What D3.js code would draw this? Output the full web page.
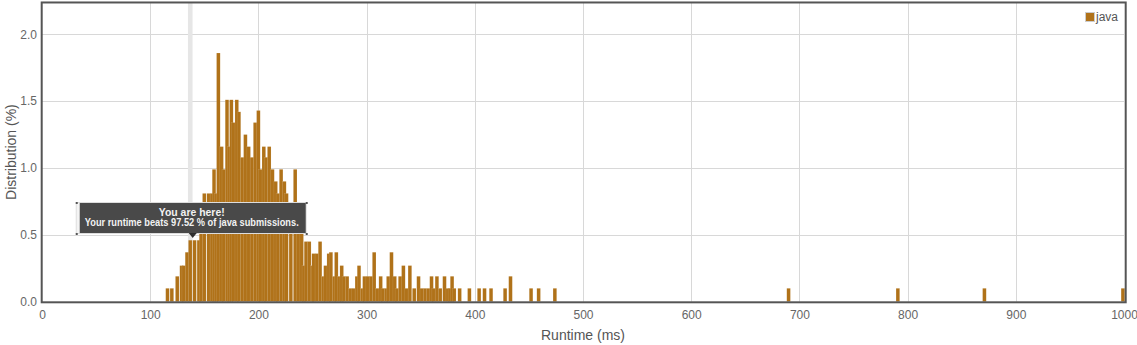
<!DOCTYPE html>
<html>
<head>
<meta charset="utf-8">
<style>
  body { margin: 0; background: #fff; }
  svg { display: block; font-family: "Liberation Sans", Arial, sans-serif; }
</style>
</head>
<body>
<svg width="1137" height="345"></svg>
<script src="https://d3js.org/d3.v7.min.js"></script>
<script>

    // runtime bins (ms) and share of submissions (%)
    var runtimes = [116, 120, 125, 129, 131, 134, 137, 141, 145, 147, 150, 154, 157, 159, 161, 163, 166, 168, 171, 173,
        175, 177, 180, 182, 185, 188, 191, 194, 197, 200, 202, 205, 207, 210, 213, 216, 218, 221, 224, 226,
        230, 234, 237, 240, 242, 244, 247, 250, 251, 254, 257, 260, 262, 265, 267, 270, 272, 275, 277, 279,
        282, 285, 288, 291, 293, 296, 298, 301, 304, 307, 310, 313, 315, 318, 320, 323, 326, 328, 331, 334,
        337, 340, 344, 348, 351, 354, 357, 360, 362, 365, 368, 372, 375, 377, 379, 381, 386, 395, 404, 409,
        415, 428, 433, 452, 459, 474, 690, 791, 871, 999];
    var percents = [0.10, 0.10, 0.19, 0.27, 0.27, 0.37, 0.46, 0.46, 0.46, 0.58, 0.81, 0.81, 0.81, 0.99, 0.81, 1.86, 1.16, 0.99, 1.51, 1.16,
        1.51, 1.34, 1.51, 1.42, 1.08, 1.25, 1.16, 1.08, 1.34, 1.43, 0.99, 1.16, 1.08, 1.16, 0.99, 0.90, 0.81, 0.99, 0.90, 0.81,
        0.74, 0.99, 0.74, 0.66, 0.27, 0.45, 0.45, 0.27, 0.36, 0.36, 0.45, 0.19, 0.27, 0.36, 0.37, 0.19, 0.37, 0.19, 0.27, 0.19,
        0.19, 0.10, 0.10, 0.19, 0.27, 0.10, 0.19, 0.19, 0.19, 0.37, 0.10, 0.19, 0.10, 0.10, 0.19, 0.37, 0.19, 0.10, 0.19, 0.27,
        0.10, 0.27, 0.10, 0.19, 0.10, 0.10, 0.10, 0.19, 0.10, 0.19, 0.10, 0.19, 0.10, 0.10, 0.19, 0.10, 0.10, 0.10, 0.10, 0.10,
        0.10, 0.10, 0.19, 0.10, 0.10, 0.10, 0.10, 0.10, 0.10, 0.10];

    var xTicks = [0, 100, 200, 300, 400, 500, 600, 700, 800, 900, 1000];
    var yTicks = [0, 0.5, 1, 1.5, 2];
    var seriesName = "java";
    var myRuntime = 137;
    var tipLines = ["You are here!", "Your runtime beats 97.52 % of java submissions."];

    var data = runtimes.map(function(r, i) { return {ms: r, pct: percents[i]}; });

    var svg = d3.select("svg"),
        barColor = "#b07219";

    var x = d3.scaleLinear().domain([0, 1000]).range([42, 1124]);
    var y = d3.scaleLinear().domain([0, 2]).range([301.7, 34.3]);
    var plotTop = y(2.238), plotBottom = y(0);

    svg.append("clipPath").attr("id", "plot")
        .append("rect")
        .attr("x", x(0)).attr("y", plotTop)
        .attr("width", x(1000) - x(0) + 1).attr("height", plotBottom - plotTop);

    // grid
    svg.append("g").selectAll("line")
        .data(xTicks.filter(function(t) { return t > 0 && t < 1000; }))
        .enter().append("line")
        .attr("x1", function(d) { return Math.round(x(d)) + 0.5; })
        .attr("x2", function(d) { return Math.round(x(d)) + 0.5; })
        .attr("y1", plotTop).attr("y2", plotBottom)
        .attr("stroke", "#d8d8d8");

    svg.append("g").selectAll("line")
        .data(yTicks.filter(function(t) { return t > 0; }))
        .enter().append("line")
        .attr("x1", x(0)).attr("x2", x(1000))
        .attr("y1", function(d) { return Math.round(y(d)) + 0.5; })
        .attr("y2", function(d) { return Math.round(y(d)) + 0.5; })
        .attr("stroke", "#d8d8d8");

    // "you are here" band
    svg.append("rect")
        .attr("x", x(myRuntime) - 2.3)
        .attr("y", plotTop)
        .attr("width", 4.6)
        .attr("height", plotBottom - plotTop)
        .attr("fill", "#e6e6e6");

    // bars
    svg.append("g")
        .attr("clip-path", "url(#plot)")
        .selectAll("rect")
        .data(data)
        .enter().append("rect")
        .attr("x", function(d) { return x(d.ms) - 1.8; })
        .attr("width", 3.6)
        .attr("y", function(d) { return y(d.pct); })
        .attr("height", function(d) { return y(0) - y(d.pct); })
        .attr("fill", barColor)
        .attr("stroke", "rgba(255,255,255,0.25)")
        .attr("stroke-width", 0.4);

    // frame
    svg.append("rect")
        .attr("x", 41.7).attr("y", plotTop)
        .attr("width", 1084).attr("height", 302.3 - plotTop)
        .attr("fill", "none")
        .attr("stroke", "#555")
        .attr("stroke-width", 2);

    // axes
    var xAxis = svg.append("g")
        .attr("transform", "translate(0,302)")
        .call(d3.axisBottom(x).tickValues(xTicks).tickSize(0).tickPadding(8).tickFormat(d3.format("d")));
    var yAxis = svg.append("g")
        .attr("transform", "translate(42,0)")
        .call(d3.axisLeft(y).tickValues(yTicks).tickSize(0).tickPadding(5).tickFormat(d3.format(".1f")));

    [xAxis, yAxis].forEach(function(a) {
        a.select(".domain").remove();
        a.selectAll("text")
            .attr("fill", "#666")
            .style("font-size", "12px")
            .style("font-family", "'Liberation Sans', Arial, sans-serif");
    });

    svg.append("text")
        .attr("x", (x(0) + x(1000)) / 2)
        .attr("y", 340)
        .attr("text-anchor", "middle")
        .attr("fill", "#555")
        .style("font-size", "14px")
        .text("Runtime (ms)");

    svg.append("text")
        .attr("transform", "translate(16," + ((plotTop + plotBottom) / 2) + ") rotate(-90)")
        .attr("text-anchor", "middle")
        .attr("fill", "#555")
        .style("font-size", "14px")
        .text("Distribution (%)");

    // legend
    svg.append("rect")
        .attr("x", 1085.5).attr("y", 12.5)
        .attr("width", 9).attr("height", 9)
        .attr("fill", barColor)
        .attr("stroke", "#ccc");
    svg.append("text")
        .attr("x", 1096).attr("y", 21)
        .attr("fill", "#555")
        .style("font-size", "12px")
        .text(seriesName);

    // tooltip
    var px = x(myRuntime) + 2.5,
        tip = svg.append("g").attr("transform", "translate(" + px + ",0)");

    tip.append("rect")
        .attr("x", -116.5).attr("y", 202.5)
        .attr("width", 230).attr("height", 31)
        .attr("fill", "#f4f4f4")
        .attr("stroke", "#ddd");
    tip.append("rect")
        .attr("x", -113).attr("y", 203)
        .attr("width", 226).attr("height", 30)
        .attr("fill", "rgba(0,0,0,0.7)");
    tip.append("path")
        .attr("d", "M-4,233L4,233L0,238Z")
        .attr("fill", "rgba(0,0,0,0.8)");

    [[-117, 202], [113, 202], [-117, 233], [113, 233]].forEach(function(c) {
        tip.append("rect")
            .attr("x", c[0]).attr("y", c[1])
            .attr("width", 2).attr("height", 2)
            .attr("fill", "#555");
    });

    var tipWidths = [66, 214];
    tip.selectAll("text.tip")
        .data(tipLines)
        .enter().append("text")
        .attr("class", "tip")
        .attr("x", -1)
        .attr("y", function(d, i) { return 215.5 + i * 10.5; })
        .attr("text-anchor", "middle")
        .attr("textLength", function(d, i) { return tipWidths[i]; })
        .attr("lengthAdjust", "spacingAndGlyphs")
        .attr("fill", "#f2f2f2")
        .style("font-size", "11px")
        .style("font-weight", "bold")
        .text(function(d) { return d; });

</script>
</body>
</html>
